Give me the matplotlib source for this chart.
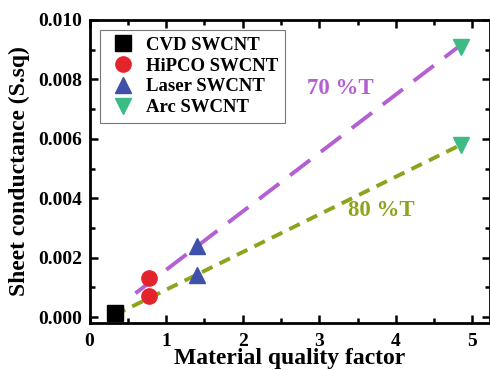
import matplotlib
matplotlib.use('Agg')
import matplotlib.pyplot as plt
from matplotlib.ticker import MultipleLocator, FormatStrFormatter

plt.rcParams['font.family'] = ['Liberation Serif', 'DejaVu Serif']
plt.rcParams['font.weight'] = 'bold'

# data
cvd_x = [0.33]
cvd_y = [0.00015]
hipco_x = [0.78, 0.78]
hipco_y = [0.0013, 0.0007]
laser_x = [1.40, 1.40]
laser_y = [0.0024, 0.0014]
arc_x = [4.85, 4.85]
arc_y = [0.0091, 0.0058]

fit70_x = [0.60, 4.87]
fit70_y = [0.0008, 0.0092]
fit80_x = [0.33, 4.85]
fit80_y = [0.00007, 0.0058]

fig = plt.figure(figsize=(4.9, 3.7), dpi=100)
ax = fig.add_axes([0.1827, 0.127, 0.8173, 0.819])

ax.plot(fit70_x, fit70_y, color='#B45FD2', lw=2.8, dashes=(6.5, 3.5), zorder=2)
ax.plot(fit80_x, fit80_y, color='#8DA31C', lw=2.8, dashes=(3, 2), zorder=2)

ax.plot(cvd_x, cvd_y, 's', color='black', ms=11, ls='none', label='CVD SWCNT', zorder=3)
ax.plot(hipco_x, hipco_y, 'o', color='#E4242C', ms=11, ls='none', label='HiPCO SWCNT', zorder=3)
ax.plot(laser_x, laser_y, '^', color='#3F51AA', ms=12, ls='none', label='Laser SWCNT', zorder=3)
ax.plot(arc_x, arc_y, 'v', color='#3DBB85', ms=12, ls='none', label='Arc SWCNT', zorder=3)

ax.text(3.27, 0.0077, '70 %T', color='#B45FD2', fontsize=16.5, fontweight='bold',
        ha='center', va='center')
ax.text(3.81, 0.0036, '80 %T', color='#8DA31C', fontsize=16.5, fontweight='bold',
        ha='center', va='center')

ax.set_xlim(0, 5.23)
ax.set_ylim(-0.0002, 0.010)
ax.xaxis.set_major_locator(MultipleLocator(1))
ax.xaxis.set_minor_locator(MultipleLocator(0.5))
ax.yaxis.set_major_locator(MultipleLocator(0.002))
ax.yaxis.set_minor_locator(MultipleLocator(0.001))
ax.yaxis.set_major_formatter(FormatStrFormatter('%.3f'))
ax.tick_params(which='both', direction='in', top=True, right=True, width=1.8, labelsize=14)
ax.tick_params(axis='x', pad=7)
ax.tick_params(axis='y', pad=5)
ax.tick_params(which='major', length=6)
ax.tick_params(which='minor', length=3.5)
for s in ax.spines.values():
    s.set_linewidth(2)

ax.set_xlabel('Material quality factor', fontsize=17, fontweight='bold', labelpad=-1)
ax.set_ylabel('Sheet conductance (S.sq)', fontsize=17, fontweight='bold', labelpad=6)

leg = ax.legend(loc='upper left', bbox_to_anchor=(0.026, 0.967), borderaxespad=0,
                fancybox=False, edgecolor='#555555', fontsize=13.5, handletextpad=0.3,
                labelspacing=0.2, borderpad=0.35, handlelength=1.8)
leg.get_frame().set_linewidth(0.8)

fig.savefig('out.png', dpi=100)
